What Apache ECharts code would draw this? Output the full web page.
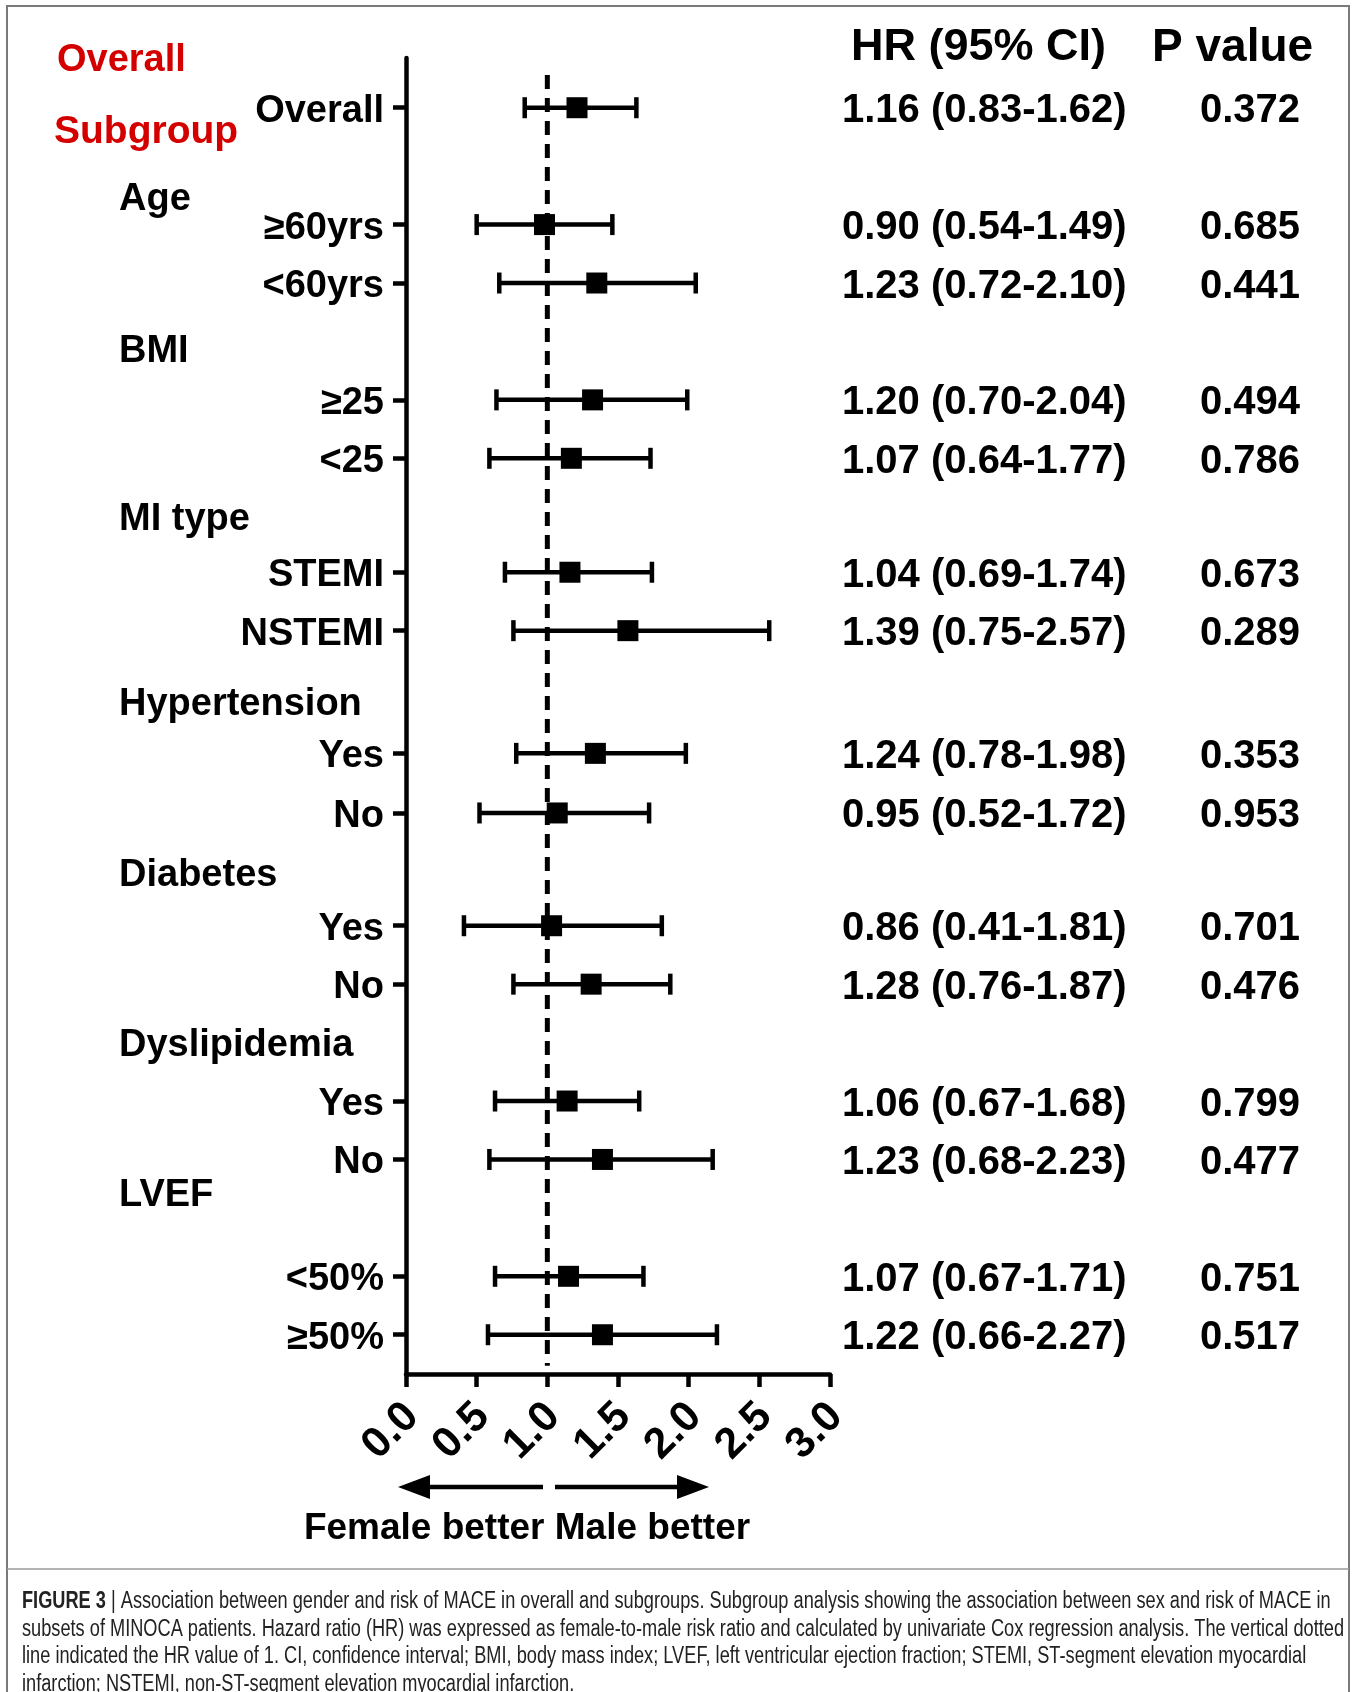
<!DOCTYPE html>
<html><head><meta charset="utf-8">
<script src="https://cdn.jsdelivr.net/npm/echarts@6/dist/echarts.min.js"></script>
<style>html,body{margin:0;padding:0;background:#fff}#c{width:1357px;height:1692px}</style>
</head><body><div id="c"></div>
<script>
// ---- data ----
const rowLabels = ['Overall','≥60yrs','<60yrs','≥25','<25','STEMI','NSTEMI','Yes','No','Yes','No','Yes','No','<50%','≥50%'];
const rowSlots = [0,2,3,5,6,7.95,8.95,11.05,12.07,14,15,17,18,20,21];
const hrPlot = [1.21,0.98,1.35,1.32,1.17,1.16,1.57,1.34,1.07,1.03,1.31,1.14,1.39,1.15,1.39];
const ciLow = [0.84,0.50,0.66,0.64,0.59,0.70,0.76,0.78,0.52,0.41,0.76,0.63,0.59,0.63,0.58];
const ciHigh = [1.63,1.46,2.05,1.99,1.73,1.74,2.57,1.98,1.72,1.81,1.87,1.65,2.17,1.68,2.20];
const hrText = ['1.16 (0.83-1.62)','0.90 (0.54-1.49)','1.23 (0.72-2.10)','1.20 (0.70-2.04)','1.07 (0.64-1.77)','1.04 (0.69-1.74)','1.39 (0.75-2.57)','1.24 (0.78-1.98)','0.95 (0.52-1.72)','0.86 (0.41-1.81)','1.28 (0.76-1.87)','1.06 (0.67-1.68)','1.23 (0.68-2.23)','1.07 (0.67-1.71)','1.22 (0.66-2.27)'];
const pText = ['0.372','0.685','0.441','0.494','0.786','0.673','0.289','0.353','0.953','0.701','0.476','0.799','0.477','0.751','0.517'];
const groupLabels = ['Age','BMI','MI type','Hypertension','Diabetes','Dyslipidemia','LVEF'];
const groupSlots = [1.57,4.17,7.05,10.22,13.14,16.05,18.62];
const xTickValues = [0,0.5,1,1.5,2,2.5,3];
const xTicks = ['0.0','0.5','1.0','1.5','2.0','2.5','3.0'];
const refValue = 1;
const captionBold = 'FIGURE 3';
const captionLines = [
 ' | Association between gender and risk of MACE in overall and subgroups. Subgroup analysis showing the association between sex and risk of MACE in',
 'subsets of MINOCA patients. Hazard ratio (HR) was expressed as female-to-male risk ratio and calculated by univariate Cox regression analysis. The vertical dotted',
 'line indicated the HR value of 1. CI, confidence interval; BMI, body mass index; LVEF, left ventricular ejection fraction; STEMI, ST-segment elevation myocardial',
 'infarction; NSTEMI, non-ST-segment elevation myocardial infarction.'
];

const FF = '"Liberation Sans", Arial, sans-serif';
const CAP_FS = 23;
const Y_MIN = -0.851, Y_MAX = 21.672;

// measure caption lines to compress them horizontally to the reference width
const mctx = document.createElement('canvas').getContext('2d');
mctx.font = 'bold ' + CAP_FS + 'px ' + FF;
const wBold = mctx.measureText(captionBold).width;
mctx.font = CAP_FS + 'px ' + FF;
const w1 = wBold + mctx.measureText(captionLines[0]).width;
const w2 = mctx.measureText(captionLines[1]).width;
const capScale = Math.min(1318 / w1, 1322 / w2);

function rowIndex(v){ for(let i=0;i<rowSlots.length;i++){ if(Math.abs(rowSlots[i]-v)<0.005) return i; } return -1; }

const chart = echarts.init(document.getElementById('c'), null, {renderer:'canvas'});

const option = {
  backgroundColor:'#fff',
  animation:false,
  grid:{left:406, top:58, width:424, height:1316, containLabel:false},
  xAxis:{
    type:'value', min:0, max:3, interval:0.5,
    axisLine:{show:true, onZero:false, lineStyle:{color:'#000', width:4.5}},
    axisTick:{show:true, length:13, lineStyle:{color:'#000', width:4.5}},
    axisLabel:{show:false},
    splitLine:{show:false}
  },
  yAxis:{
    type:'value', inverse:true, min:Y_MIN, max:Y_MAX,
    axisLine:{show:true, onZero:false, lineStyle:{color:'#000', width:4.5}},
    axisTick:{show:true, length:13, customValues:rowSlots, lineStyle:{color:'#000', width:4.5}},
    axisLabel:{show:true, customValues:rowSlots, margin:22, color:'#000', fontSize:38, fontWeight:'bold', fontFamily:FF,
      formatter:v=>{const i=rowIndex(v); return i>=0?('{a|'+rowLabels[i]+'}'):'';},
      rich:{a:{fontSize:38, fontWeight:'bold', fontFamily:FF, color:'#000', padding:[7,0,0,0]}}},
    splitLine:{show:false}
  },
  series:[
    {
      type:'line', z:1, silent:true, showSymbol:false, symbol:'none',
      data:[[refValue,-0.56],[refValue,21.53]],
      lineStyle:{color:'#000', width:5, type:[14,9]}
    },
    {
      type:'custom', z:2, silent:true,
      data: rowSlots.map((s,i)=>[ciLow[i], ciHigh[i], s]),
      encode:{x:[0,1], y:2},
      renderItem:(params, api)=>{
        const lo = api.coord([api.value(0), api.value(2)]);
        const hi = api.coord([api.value(1), api.value(2)]);
        const st = {stroke:'#000', lineWidth:4.5};
        return {type:'group', children:[
          {type:'line', shape:{x1:lo[0], y1:lo[1], x2:hi[0], y2:hi[1]}, style:st},
          {type:'line', shape:{x1:lo[0], y1:lo[1]-10.5, x2:lo[0], y2:lo[1]+10.5}, style:st},
          {type:'line', shape:{x1:hi[0], y1:hi[1]-10.5, x2:hi[0], y2:hi[1]+10.5}, style:st}
        ]};
      }
    },
    {
      type:'scatter', z:5, silent:true, symbol:'rect', symbolSize:21,
      itemStyle:{color:'#000', opacity:1},
      data: rowSlots.map((s,i)=>[hrPlot[i], s])
    },
    {
      // HR (95% CI) and P value columns
      type:'custom', z:3, silent:true, clip:false,
      data: rowSlots.map((s,i)=>[0, s, i]),
      encode:{x:0, y:1},
      renderItem:(params, api)=>{
        const p = api.coord([0, api.value(1)]);
        const i = api.value(2);
        const ts = {fill:'#000', fontSize:40, fontWeight:'bold', fontFamily:FF, verticalAlign:'middle', align:'left'};
        return {type:'group', children:[
          {type:'text', x:842, y:p[1]+3.5, style:Object.assign({text:hrText[i]}, ts)},
          {type:'text', x:1200, y:p[1]+3.5, style:Object.assign({text:pText[i]}, ts)}
        ]};
      }
    },
    {
      // group headers
      type:'custom', z:3, silent:true, clip:false,
      data: groupSlots.map((s,i)=>[0, s, i]),
      encode:{x:0, y:1},
      renderItem:(params, api)=>{
        const p = api.coord([0, api.value(1)]);
        const i = api.value(2);
        return {type:'text', x:119, y:p[1], style:{text:groupLabels[i], fill:'#000', fontSize:38, fontWeight:'bold', fontFamily:FF, verticalAlign:'middle', align:'left'}};
      }
    },
    {
      // rotated x tick labels
      type:'custom', z:3, silent:true, clip:false,
      data: xTickValues.map((v,i)=>[v, Y_MAX, i]),
      encode:{x:0, y:1},
      renderItem:(params, api)=>{
        const p = api.coord([api.value(0), api.value(1)]);
        const i = api.value(2);
        return {type:'text', x:p[0]+6, y:p[1]+36, rotation:Math.PI/4,
          style:{text:xTicks[i], fill:'#000', fontSize:43, fontWeight:'bold', fontFamily:FF, align:'right', verticalAlign:'middle'}};
      }
    }
  ],
  graphic:[
    {type:'rect', shape:{x:7, y:6, width:1342, height:1700}, style:{fill:'none', stroke:'#7a7a7a', lineWidth:2}, silent:true},
    {type:'line', shape:{x1:7, y1:1569, x2:1349, y2:1569}, style:{stroke:'#9a9a9a', lineWidth:1.5}, silent:true},
    {type:'text', x:57, y:61, style:{text:'Overall', fill:'#d40000', fontSize:38, fontWeight:'bold', fontFamily:FF, verticalAlign:'middle'}},
    {type:'text', x:54, y:132, style:{text:'Subgroup', fill:'#d40000', fontSize:39, fontWeight:'bold', fontFamily:FF, verticalAlign:'middle'}},
    {type:'text', x:851, y:48, style:{text:'HR (95% CI)', fill:'#000', fontSize:45, fontWeight:'bold', fontFamily:FF, verticalAlign:'middle'}},
    {type:'text', x:1152, y:48, style:{text:'P value', fill:'#000', fontSize:46, fontWeight:'bold', fontFamily:FF, verticalAlign:'middle'}},
    {type:'line', shape:{x1:543, y1:1487, x2:420, y2:1487}, style:{stroke:'#000', lineWidth:4.5}},
    {type:'polygon', shape:{points:[[398,1487],[430,1475],[430,1499]]}, style:{fill:'#000'}},
    {type:'line', shape:{x1:555, y1:1487, x2:688, y2:1487}, style:{stroke:'#000', lineWidth:4.5}},
    {type:'polygon', shape:{points:[[709,1487],[677,1475],[677,1499]]}, style:{fill:'#000'}},
    {type:'text', x:527, y:1529, style:{text:'Female better Male better', fill:'#000', fontSize:37, fontWeight:'bold', fontFamily:FF, align:'center', verticalAlign:'middle'}},
    {type:'text', x:22, y:1588, scaleX:capScale, style:{
      text:'{b|' + captionBold + '}' + captionLines.join('\n'), fill:'#222', fontSize:CAP_FS, lineHeight:27.5, fontFamily:FF,
      rich:{b:{fontWeight:'bold', fontSize:CAP_FS, lineHeight:27.5, fill:'#222', fontFamily:FF}}}}
  ]
};
chart.setOption(option);
</script>
</body></html>
